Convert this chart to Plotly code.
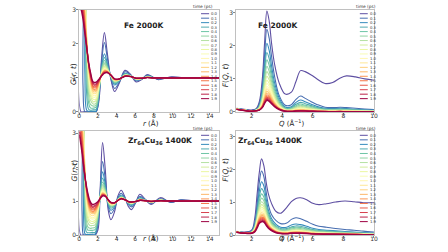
import plotly.graph_objects as go

# ---------------- data ----------------
times = [0.0, 0.1, 0.2, 0.3, 0.4, 0.5, 0.6, 0.7, 0.8, 0.9,
         1.0, 1.1, 1.2, 1.3, 1.4, 1.5, 1.6, 1.7, 1.8, 1.9]

# Fe 2000K, G(r,t)
r_fe = [0, 0.2, 0.4, 0.6, 0.8, 1.0, 1.2, 1.5, 1.8,
        2.1, 2.4, 2.7, 3.0, 3.4, 3.8, 4.3, 4.9, 5.5, 6.1, 6.7, 7.3, 7.9, 8.5, 9.2, 9.9, 11.5, 15]
G_fe = [
    [5, 0, 0, 0, 0, 0, 0, 0, 0, 0.3, 1.6, 2.33, 1.75, 0.95, 0.6, 0.85, 1.22, 1.1, 0.88, 0.95, 1.1, 1.02, 0.95, 0.99, 1.03, 1.0, 1.0],
    [5, 5, 0.8, 0, 0, 0, 0, 0, 0, 0.38, 1.47, 2.04, 1.61, 0.98, 0.69, 0.88, 1.18, 1.09, 0.91, 0.96, 1.08, 1.02, 0.96, 0.99, 1.02, 1.0, 1.0],
    [5, 5, 5, 1.19, 0.05, 0.02, 0.02, 0.02, 0.02, 0.48, 1.32, 1.71, 1.44, 1.02, 0.79, 0.91, 1.13, 1.07, 0.94, 0.97, 1.05, 1.01, 0.98, 1.0, 1.01, 1.0, 1.0],
    [5, 5, 5, 3.53, 0.51, 0.08, 0.05, 0.06, 0.07, 0.53, 1.27, 1.6, 1.39, 1.03, 0.83, 0.92, 1.12, 1.06, 0.95, 0.97, 1.05, 1.01, 0.98, 1.0, 1.01, 1.0, 1.0],
    [5, 5, 5, 4.46, 1.17, 0.27, 0.12, 0.11, 0.14, 0.58, 1.23, 1.51, 1.34, 1.04, 0.86, 0.93, 1.1, 1.06, 0.96, 0.98, 1.04, 1.01, 0.98, 1.0, 1.01, 1.0, 1.0],
    [5, 5, 5, 4.59, 1.66, 0.52, 0.22, 0.17, 0.2, 0.63, 1.2, 1.44, 1.31, 1.05, 0.88, 0.94, 1.09, 1.06, 0.96, 0.98, 1.03, 1.0, 0.99, 1.0, 1.01, 1.0, 1.0],
    [5, 5, 5, 4.42, 1.94, 0.75, 0.35, 0.23, 0.26, 0.66, 1.17, 1.39, 1.28, 1.05, 0.89, 0.94, 1.09, 1.05, 0.97, 0.98, 1.03, 1.0, 0.99, 1.0, 1.01, 1.0, 1.0],
    [5, 5, 5, 4.1, 2.08, 0.94, 0.48, 0.3, 0.33, 0.7, 1.15, 1.34, 1.26, 1.06, 0.91, 0.95, 1.08, 1.05, 0.97, 0.98, 1.03, 1.0, 0.99, 1.0, 1.0, 1.0, 1.0],
    [5, 5, 5, 3.87, 2.14, 1.08, 0.59, 0.37, 0.38, 0.74, 1.14, 1.31, 1.24, 1.06, 0.92, 0.95, 1.07, 1.05, 0.97, 0.98, 1.02, 1.0, 0.99, 1.0, 1.0, 1.0, 1.0],
    [5, 5, 5, 3.59, 2.15, 1.19, 0.69, 0.43, 0.45, 0.77, 1.12, 1.27, 1.22, 1.07, 0.93, 0.96, 1.07, 1.05, 0.98, 0.99, 1.02, 1.0, 0.99, 1.0, 1.0, 1.0, 1.0],
    [5, 5, 4.75, 3.36, 2.12, 1.25, 0.77, 0.49, 0.49, 0.79, 1.11, 1.26, 1.22, 1.07, 0.93, 0.96, 1.07, 1.05, 0.98, 0.99, 1.02, 1.0, 1.0, 1.0, 1.0, 1.0, 1.0],
    [5, 5, 4.28, 3.14, 2.1, 1.31, 0.85, 0.55, 0.55, 0.81, 1.1, 1.24, 1.21, 1.07, 0.94, 0.96, 1.06, 1.05, 0.98, 0.99, 1.02, 1.0, 1.0, 1.0, 1.0, 1.0, 1.0],
    [4.97, 4.71, 3.97, 2.99, 2.07, 1.35, 0.91, 0.6, 0.6, 0.83, 1.1, 1.22, 1.2, 1.07, 0.94, 0.96, 1.06, 1.04, 0.98, 0.99, 1.02, 1.0, 1.0, 1.0, 1.0, 1.0, 1.0],
    [4.54, 4.31, 3.69, 2.85, 2.03, 1.37, 0.95, 0.65, 0.63, 0.85, 1.09, 1.21, 1.19, 1.07, 0.95, 0.96, 1.06, 1.04, 0.98, 0.99, 1.02, 1.0, 1.0, 1.0, 1.0, 1.0, 1.0],
    [4.17, 3.98, 3.45, 2.73, 2.0, 1.39, 0.99, 0.68, 0.67, 0.87, 1.09, 1.2, 1.19, 1.08, 0.95, 0.96, 1.06, 1.04, 0.99, 0.99, 1.01, 1.0, 1.0, 1.0, 1.0, 1.0, 1.0],
    [3.84, 3.68, 3.24, 2.6, 1.95, 1.4, 1.04, 0.73, 0.71, 0.88, 1.08, 1.19, 1.18, 1.08, 0.96, 0.97, 1.05, 1.04, 0.99, 0.99, 1.01, 1.0, 1.0, 1.0, 1.0, 1.0, 1.0],
    [3.63, 3.49, 3.1, 2.52, 1.93, 1.42, 1.07, 0.76, 0.75, 0.9, 1.08, 1.17, 1.17, 1.08, 0.96, 0.97, 1.05, 1.04, 0.99, 0.99, 1.01, 1.0, 1.0, 1.0, 1.0, 1.0, 1.0],
    [3.43, 3.32, 2.97, 2.45, 1.91, 1.43, 1.1, 0.8, 0.79, 0.91, 1.07, 1.16, 1.17, 1.08, 0.96, 0.97, 1.05, 1.04, 0.99, 0.99, 1.01, 1.0, 1.0, 1.0, 1.0, 1.0, 1.0],
    [3.27, 3.16, 2.85, 2.38, 1.9, 1.44, 1.13, 0.84, 0.82, 0.93, 1.07, 1.15, 1.16, 1.08, 0.97, 0.97, 1.05, 1.04, 0.99, 0.99, 1.01, 1.0, 1.0, 1.0, 1.0, 1.0, 1.0],
    [3.1, 3.01, 2.74, 2.32, 1.88, 1.46, 1.16, 0.88, 0.87, 0.95, 1.06, 1.14, 1.16, 1.08, 0.97, 0.97, 1.05, 1.04, 0.99, 0.99, 1.01, 1.0, 1.0, 1.0, 1.0, 1.0, 1.0],
]

# Fe 2000K, F(Q,t)
q_fe = [1.0, 1.5, 2.0, 2.3, 2.5, 2.7, 2.85, 3.0, 3.15, 3.3, 3.5, 3.8, 4.2, 4.6, 4.9, 5.2, 5.5, 5.9, 6.3, 6.8, 7.3, 7.8, 8.2, 8.8, 9.4, 10.0]
F_fe = [
    [0.11, 0.08, 0.06, 0.1, 0.3, 1.0, 2.1, 3.05, 2.75, 2.1, 1.45, 0.88, 0.54, 0.6, 0.92, 1.25, 1.22, 1.12, 0.99, 0.86, 0.89, 1.03, 1.09, 1.06, 1.0, 0.96],
    [0.105, 0.07, 0.04, 0.08, 0.23, 0.78, 1.73, 2.5, 2.23, 1.7, 1.08, 0.5, 0.2, 0.22, 0.38, 0.48, 0.41, 0.31, 0.22, 0.14, 0.13, 0.14, 0.13, 0.11, 0.09, 0.07],
    [0.1, 0.065, 0.037, 0.07, 0.19, 0.65, 1.44, 2.08, 1.86, 1.41, 0.89, 0.42, 0.15, 0.16, 0.29, 0.36, 0.31, 0.23, 0.16, 0.11, 0.1, 0.11, 0.1, 0.08, 0.065, 0.055],
    [0.1, 0.063, 0.035, 0.066, 0.17, 0.57, 1.25, 1.8, 1.61, 1.22, 0.76, 0.35, 0.12, 0.13, 0.23, 0.29, 0.25, 0.19, 0.13, 0.09, 0.08, 0.09, 0.08, 0.064, 0.052, 0.044],
    [0.098, 0.062, 0.034, 0.06, 0.15, 0.5, 1.1, 1.58, 1.41, 1.07, 0.66, 0.3, 0.1, 0.11, 0.19, 0.24, 0.2, 0.16, 0.11, 0.07, 0.067, 0.072, 0.067, 0.053, 0.043, 0.036],
    [0.096, 0.06, 0.033, 0.058, 0.14, 0.44, 0.96, 1.38, 1.23, 0.93, 0.58, 0.26, 0.085, 0.09, 0.16, 0.2, 0.17, 0.13, 0.09, 0.06, 0.056, 0.06, 0.056, 0.044, 0.036, 0.03],
    [0.094, 0.058, 0.032, 0.054, 0.13, 0.4, 0.85, 1.22, 1.09, 0.83, 0.51, 0.23, 0.075, 0.077, 0.136, 0.17, 0.145, 0.11, 0.077, 0.05, 0.048, 0.05, 0.048, 0.037, 0.03, 0.026],
    [0.092, 0.056, 0.031, 0.05, 0.11, 0.35, 0.76, 1.08, 0.97, 0.74, 0.45, 0.2, 0.065, 0.063, 0.11, 0.14, 0.12, 0.09, 0.063, 0.042, 0.04, 0.042, 0.04, 0.031, 0.025, 0.021],
    [0.09, 0.055, 0.03, 0.048, 0.1, 0.31, 0.68, 0.96, 0.86, 0.66, 0.4, 0.18, 0.055, 0.054, 0.096, 0.12, 0.1, 0.078, 0.054, 0.036, 0.034, 0.036, 0.034, 0.026, 0.022, 0.018],
    [0.088, 0.054, 0.029, 0.046, 0.09, 0.28, 0.6, 0.86, 0.78, 0.59, 0.36, 0.16, 0.05, 0.045, 0.08, 0.1, 0.085, 0.065, 0.045, 0.03, 0.028, 0.03, 0.028, 0.022, 0.018, 0.015],
    [0.087, 0.053, 0.028, 0.045, 0.085, 0.25, 0.54, 0.77, 0.7, 0.53, 0.33, 0.15, 0.045, 0.04, 0.072, 0.09, 0.077, 0.059, 0.04, 0.027, 0.025, 0.027, 0.025, 0.02, 0.016, 0.014],
    [0.086, 0.052, 0.027, 0.044, 0.08, 0.23, 0.5, 0.7, 0.63, 0.48, 0.3, 0.13, 0.04, 0.036, 0.064, 0.08, 0.068, 0.052, 0.036, 0.024, 0.022, 0.024, 0.022, 0.018, 0.014, 0.012],
    [0.085, 0.051, 0.026, 0.042, 0.075, 0.21, 0.45, 0.63, 0.57, 0.44, 0.27, 0.12, 0.037, 0.032, 0.056, 0.07, 0.06, 0.046, 0.032, 0.021, 0.02, 0.021, 0.02, 0.015, 0.013, 0.011],
    [0.084, 0.05, 0.025, 0.04, 0.07, 0.19, 0.41, 0.57, 0.52, 0.4, 0.25, 0.11, 0.034, 0.027, 0.048, 0.06, 0.051, 0.039, 0.027, 0.018, 0.017, 0.018, 0.017, 0.013, 0.011, 0.009],
    [0.083, 0.049, 0.024, 0.04, 0.066, 0.18, 0.38, 0.52, 0.48, 0.36, 0.23, 0.1, 0.03, 0.023, 0.04, 0.05, 0.043, 0.033, 0.023, 0.015, 0.014, 0.015, 0.014, 0.011, 0.009, 0.008],
    [0.082, 0.048, 0.023, 0.038, 0.063, 0.17, 0.35, 0.48, 0.44, 0.34, 0.21, 0.095, 0.028, 0.02, 0.036, 0.045, 0.038, 0.029, 0.02, 0.014, 0.013, 0.014, 0.013, 0.01, 0.008, 0.007],
    [0.081, 0.047, 0.022, 0.037, 0.06, 0.16, 0.32, 0.44, 0.41, 0.31, 0.2, 0.09, 0.026, 0.018, 0.032, 0.04, 0.034, 0.026, 0.018, 0.012, 0.011, 0.012, 0.011, 0.009, 0.007, 0.006],
    [0.08, 0.046, 0.021, 0.036, 0.058, 0.15, 0.3, 0.41, 0.38, 0.29, 0.19, 0.085, 0.024, 0.016, 0.028, 0.035, 0.03, 0.023, 0.016, 0.011, 0.01, 0.011, 0.01, 0.008, 0.006, 0.005],
    [0.079, 0.045, 0.02, 0.035, 0.056, 0.14, 0.28, 0.38, 0.35, 0.27, 0.18, 0.08, 0.022, 0.014, 0.024, 0.03, 0.026, 0.02, 0.014, 0.009, 0.008, 0.009, 0.008, 0.007, 0.005, 0.005],
    [0.078, 0.044, 0.02, 0.034, 0.054, 0.13, 0.26, 0.35, 0.32, 0.25, 0.16, 0.075, 0.02, 0.013, 0.024, 0.03, 0.026, 0.02, 0.014, 0.009, 0.008, 0.009, 0.008, 0.006, 0.005, 0.004],
]

# Zr64Cu36 1400K, G(r,t)
r_zc = [0, 0.15, 0.3, 0.45, 0.6, 0.75, 0.9, 1.15, 1.4, 1.7,
        2.0, 2.25, 2.5, 2.8, 3.1, 3.4, 3.8, 4.15, 4.5, 4.9, 5.25, 5.6, 6.05, 6.5, 7.1, 7.7, 8.7, 9.8, 10.9, 12.5, 15]
G_zc = [
    [5, 0, 0, 0, 0, 0, 0, 0, 0, 0, 0.15, 1.4, 2.72, 1.9, 0.75, 0.45, 0.7, 1.15, 1.32, 1.12, 0.85, 0.75, 0.95, 1.2, 1.05, 0.9, 1.1, 0.96, 1.04, 1.0, 1.0],
    [5, 5, 0.69, 0, 0, 0, 0, 0, 0, 0, 0.3, 1.29, 2.16, 1.63, 0.85, 0.63, 0.79, 1.1, 1.23, 1.09, 0.9, 0.83, 0.96, 1.14, 1.04, 0.93, 1.07, 0.97, 1.03, 1.0, 1.0],
    [5, 5, 5, 1.03, 0.05, 0.02, 0.02, 0.02, 0.03, 0.03, 0.39, 1.22, 1.86, 1.48, 0.91, 0.73, 0.84, 1.08, 1.18, 1.08, 0.93, 0.87, 0.97, 1.1, 1.03, 0.95, 1.05, 0.98, 1.02, 1.0, 1.0],
    [5, 5, 5, 3.06, 0.46, 0.1, 0.07, 0.07, 0.08, 0.08, 0.46, 1.19, 1.68, 1.4, 0.94, 0.79, 0.87, 1.06, 1.15, 1.07, 0.94, 0.9, 0.98, 1.08, 1.02, 0.96, 1.04, 0.99, 1.01, 1.0, 1.0],
    [5, 5, 5, 3.87, 1.03, 0.27, 0.15, 0.14, 0.14, 0.16, 0.53, 1.16, 1.56, 1.34, 0.96, 0.83, 0.89, 1.05, 1.13, 1.06, 0.95, 0.91, 0.98, 1.07, 1.02, 0.97, 1.03, 0.99, 1.01, 1.0, 1.0],
    [5, 5, 5, 3.99, 1.47, 0.5, 0.25, 0.2, 0.21, 0.23, 0.58, 1.15, 1.48, 1.3, 0.98, 0.85, 0.9, 1.05, 1.12, 1.06, 0.96, 0.92, 0.98, 1.06, 1.02, 0.97, 1.03, 0.99, 1.01, 1.0, 1.0],
    [5, 5, 5, 3.84, 1.72, 0.72, 0.38, 0.28, 0.28, 0.3, 0.63, 1.13, 1.42, 1.27, 0.99, 0.87, 0.91, 1.04, 1.11, 1.05, 0.97, 0.93, 0.98, 1.05, 1.02, 0.97, 1.03, 0.99, 1.01, 1.0, 1.0],
    [5, 5, 5, 3.57, 1.85, 0.9, 0.51, 0.36, 0.34, 0.38, 0.68, 1.12, 1.37, 1.25, 1.0, 0.89, 0.91, 1.04, 1.1, 1.05, 0.97, 0.94, 0.98, 1.05, 1.02, 0.98, 1.02, 1.0, 1.0, 1.0, 1.0],
    [5, 5, 5, 3.37, 1.9, 1.04, 0.62, 0.43, 0.4, 0.44, 0.71, 1.12, 1.33, 1.23, 1.01, 0.9, 0.92, 1.03, 1.1, 1.05, 0.97, 0.94, 0.99, 1.04, 1.01, 0.98, 1.02, 1.0, 1.0, 1.0, 1.0],
    [5, 5, 4.64, 3.14, 1.93, 1.14, 0.73, 0.51, 0.47, 0.51, 0.76, 1.11, 1.3, 1.21, 1.01, 0.91, 0.93, 1.03, 1.09, 1.05, 0.98, 0.95, 0.99, 1.04, 1.01, 0.98, 1.02, 1.0, 1.0, 1.0, 1.0],
    [5, 5, 4.15, 2.93, 1.9, 1.21, 0.82, 0.57, 0.51, 0.55, 0.78, 1.11, 1.28, 1.2, 1.02, 0.92, 0.93, 1.03, 1.09, 1.05, 0.98, 0.95, 0.99, 1.03, 1.01, 0.98, 1.02, 1.0, 1.0, 1.0, 1.0],
    [4.83, 4.54, 3.73, 2.74, 1.89, 1.28, 0.89, 0.63, 0.57, 0.61, 0.81, 1.1, 1.26, 1.19, 1.02, 0.92, 0.93, 1.03, 1.09, 1.05, 0.98, 0.95, 0.99, 1.03, 1.01, 0.98, 1.02, 1.0, 1.0, 1.0, 1.0],
    [4.39, 4.15, 3.47, 2.62, 1.88, 1.32, 0.96, 0.69, 0.63, 0.65, 0.83, 1.1, 1.24, 1.19, 1.02, 0.93, 0.94, 1.03, 1.08, 1.04, 0.98, 0.96, 0.99, 1.03, 1.01, 0.98, 1.02, 1.0, 1.0, 1.0, 1.0],
    [4.02, 3.81, 3.23, 2.51, 1.85, 1.35, 1.0, 0.74, 0.66, 0.69, 0.86, 1.1, 1.23, 1.18, 1.03, 0.93, 0.94, 1.03, 1.08, 1.04, 0.98, 0.96, 0.99, 1.03, 1.01, 0.99, 1.01, 1.0, 1.0, 1.0, 1.0],
    [3.71, 3.52, 3.03, 2.39, 1.82, 1.37, 1.05, 0.78, 0.69, 0.73, 0.88, 1.09, 1.21, 1.17, 1.03, 0.94, 0.94, 1.02, 1.08, 1.04, 0.98, 0.96, 0.99, 1.03, 1.01, 0.99, 1.01, 1.0, 1.0, 1.0, 1.0],
    [3.43, 3.27, 2.85, 2.28, 1.79, 1.39, 1.1, 0.83, 0.74, 0.76, 0.9, 1.09, 1.2, 1.17, 1.03, 0.94, 0.94, 1.02, 1.08, 1.04, 0.99, 0.96, 0.99, 1.03, 1.01, 0.99, 1.01, 1.0, 1.0, 1.0, 1.0],
    [3.28, 3.1, 2.73, 2.22, 1.78, 1.41, 1.14, 0.86, 0.77, 0.8, 0.91, 1.09, 1.19, 1.16, 1.03, 0.95, 0.95, 1.02, 1.07, 1.04, 0.99, 0.97, 0.99, 1.02, 1.01, 0.99, 1.01, 1.0, 1.0, 1.0, 1.0],
    [3.15, 2.96, 2.62, 2.16, 1.76, 1.43, 1.17, 0.91, 0.81, 0.84, 0.93, 1.09, 1.18, 1.16, 1.04, 0.95, 0.95, 1.02, 1.07, 1.04, 0.99, 0.97, 0.99, 1.02, 1.01, 0.99, 1.01, 1.0, 1.0, 1.0, 1.0],
    [3.05, 2.83, 2.51, 2.1, 1.75, 1.45, 1.21, 0.95, 0.85, 0.87, 0.96, 1.08, 1.17, 1.15, 1.04, 0.96, 0.95, 1.02, 1.07, 1.04, 0.99, 0.97, 0.99, 1.02, 1.01, 0.99, 1.01, 1.0, 1.0, 1.0, 1.0],
    [2.95, 2.72, 2.42, 2.05, 1.74, 1.47, 1.25, 1.0, 0.9, 0.92, 0.98, 1.08, 1.15, 1.14, 1.04, 0.96, 0.95, 1.02, 1.07, 1.04, 0.99, 0.97, 0.99, 1.02, 1.01, 0.99, 1.01, 1.0, 1.0, 1.0, 1.0],
]

# Zr64Cu36 1400K, F(Q,t)
q_zc = [1.0, 1.5, 2.0, 2.2, 2.35, 2.5, 2.65, 2.8, 2.95, 3.1, 3.3, 3.6, 3.9, 4.3, 4.6, 4.9, 5.2, 5.6, 6.0, 6.4, 6.9, 7.5, 8.1, 8.7, 9.3, 10.0]
F_zc = [
    [0.12, 0.09, 0.15, 0.5, 1.2, 1.9, 2.33, 2.12, 1.62, 1.25, 0.97, 0.72, 0.67, 0.85, 1.02, 1.12, 1.14, 1.08, 0.97, 0.93, 0.96, 1.01, 1.04, 1.02, 0.99, 0.99],
    [0.11, 0.08, 0.13, 0.36, 0.91, 1.6, 1.96, 1.79, 1.32, 0.92, 0.63, 0.44, 0.35, 0.37, 0.48, 0.53, 0.5, 0.42, 0.33, 0.27, 0.24, 0.2, 0.17, 0.15, 0.12, 0.09],
    [0.108, 0.078, 0.115, 0.31, 0.76, 1.33, 1.63, 1.5, 1.11, 0.76, 0.51, 0.33, 0.24, 0.24, 0.31, 0.34, 0.32, 0.27, 0.21, 0.17, 0.15, 0.13, 0.11, 0.095, 0.075, 0.058],
    [0.106, 0.076, 0.105, 0.27, 0.67, 1.17, 1.42, 1.31, 0.97, 0.67, 0.44, 0.28, 0.2, 0.2, 0.25, 0.28, 0.27, 0.22, 0.17, 0.14, 0.13, 0.11, 0.09, 0.08, 0.06, 0.048],
    [0.105, 0.075, 0.097, 0.24, 0.6, 1.04, 1.26, 1.16, 0.86, 0.6, 0.39, 0.25, 0.17, 0.17, 0.22, 0.24, 0.23, 0.19, 0.15, 0.12, 0.11, 0.09, 0.08, 0.067, 0.053, 0.041],
    [0.104, 0.074, 0.09, 0.22, 0.54, 0.93, 1.13, 1.05, 0.78, 0.54, 0.35, 0.22, 0.15, 0.15, 0.19, 0.21, 0.2, 0.17, 0.13, 0.105, 0.095, 0.08, 0.07, 0.059, 0.046, 0.036],
    [0.103, 0.073, 0.086, 0.2, 0.49, 0.85, 1.02, 0.95, 0.7, 0.49, 0.32, 0.2, 0.13, 0.13, 0.16, 0.18, 0.17, 0.14, 0.11, 0.09, 0.08, 0.068, 0.06, 0.05, 0.04, 0.031],
    [0.102, 0.072, 0.082, 0.19, 0.45, 0.77, 0.93, 0.87, 0.64, 0.45, 0.29, 0.18, 0.12, 0.11, 0.14, 0.16, 0.15, 0.13, 0.1, 0.08, 0.072, 0.061, 0.053, 0.045, 0.035, 0.027],
    [0.101, 0.071, 0.079, 0.18, 0.42, 0.72, 0.86, 0.8, 0.6, 0.42, 0.27, 0.16, 0.1, 0.1, 0.13, 0.14, 0.13, 0.11, 0.087, 0.07, 0.063, 0.053, 0.046, 0.039, 0.031, 0.024],
    [0.1, 0.07, 0.077, 0.17, 0.39, 0.67, 0.8, 0.75, 0.56, 0.39, 0.25, 0.15, 0.1, 0.09, 0.12, 0.13, 0.12, 0.1, 0.08, 0.065, 0.058, 0.049, 0.043, 0.036, 0.029, 0.022],
    [0.099, 0.069, 0.074, 0.16, 0.36, 0.62, 0.74, 0.7, 0.52, 0.36, 0.24, 0.14, 0.09, 0.084, 0.11, 0.12, 0.114, 0.096, 0.074, 0.06, 0.054, 0.046, 0.04, 0.034, 0.026, 0.02],
    [0.098, 0.068, 0.072, 0.15, 0.34, 0.58, 0.69, 0.65, 0.49, 0.34, 0.22, 0.13, 0.083, 0.077, 0.1, 0.11, 0.105, 0.088, 0.068, 0.055, 0.05, 0.042, 0.036, 0.031, 0.024, 0.019],
    [0.097, 0.067, 0.07, 0.14, 0.32, 0.54, 0.64, 0.61, 0.45, 0.32, 0.21, 0.12, 0.076, 0.07, 0.09, 0.1, 0.095, 0.08, 0.062, 0.05, 0.045, 0.038, 0.033, 0.028, 0.022, 0.017],
    [0.096, 0.066, 0.068, 0.13, 0.3, 0.51, 0.6, 0.57, 0.43, 0.3, 0.2, 0.11, 0.07, 0.063, 0.081, 0.09, 0.086, 0.072, 0.056, 0.045, 0.04, 0.034, 0.03, 0.025, 0.02, 0.015],
    [0.095, 0.065, 0.066, 0.13, 0.28, 0.48, 0.56, 0.53, 0.4, 0.28, 0.19, 0.1, 0.065, 0.06, 0.077, 0.085, 0.08, 0.068, 0.053, 0.043, 0.038, 0.032, 0.028, 0.024, 0.019, 0.014],
    [0.094, 0.064, 0.064, 0.12, 0.27, 0.45, 0.53, 0.51, 0.38, 0.27, 0.18, 0.097, 0.061, 0.056, 0.072, 0.08, 0.076, 0.064, 0.05, 0.04, 0.036, 0.03, 0.026, 0.022, 0.018, 0.014],
    [0.093, 0.063, 0.062, 0.115, 0.255, 0.43, 0.5, 0.48, 0.36, 0.255, 0.17, 0.091, 0.058, 0.053, 0.068, 0.075, 0.071, 0.06, 0.047, 0.038, 0.034, 0.029, 0.025, 0.021, 0.017, 0.013],
    [0.092, 0.062, 0.06, 0.11, 0.24, 0.41, 0.47, 0.45, 0.34, 0.24, 0.16, 0.086, 0.054, 0.049, 0.063, 0.07, 0.067, 0.056, 0.043, 0.035, 0.032, 0.027, 0.023, 0.02, 0.015, 0.012],
    [0.091, 0.061, 0.058, 0.105, 0.23, 0.38, 0.44, 0.43, 0.32, 0.23, 0.15, 0.08, 0.05, 0.046, 0.059, 0.065, 0.062, 0.052, 0.04, 0.033, 0.029, 0.025, 0.021, 0.018, 0.014, 0.011],
    [0.09, 0.06, 0.056, 0.1, 0.21, 0.36, 0.41, 0.4, 0.3, 0.21, 0.14, 0.074, 0.046, 0.042, 0.054, 0.06, 0.057, 0.048, 0.037, 0.03, 0.027, 0.023, 0.02, 0.017, 0.013, 0.01],
]

# ---------------- style ----------------
W, H = 448, 252
FONT = "DejaVu Sans"
SPECTRAL = [(158, 1, 66), (213, 62, 79), (244, 109, 67), (253, 174, 97), (254, 224, 139),
            (255, 255, 191), (230, 245, 152), (171, 221, 164), (102, 194, 165), (50, 136, 189), (94, 79, 162)]


def spectral_r(x):
    p = (1 - x) * 10
    k = min(int(p), 9)
    f = p - k
    a, b = SPECTRAL[k], SPECTRAL[k + 1]
    return "rgb(%d,%d,%d)" % tuple(round(a[j] + (b[j] - a[j]) * f) for j in range(3))


n = len(times)
colors = [spectral_r(i / (n - 1)) for i in range(n)]


def px_x(v):
    return v / W


def px_y(v):
    return 1 - v / H


XL = [px_x(78.3), px_x(220.0)]
XR = [px_x(237.5), px_x(377.0)]
YT = [px_y(111.0), px_y(6.0)]
YB = [px_y(237.7), px_y(131.0)]

fig = go.Figure()

panels = [
    ("x", "y", r_fe, G_fe),
    ("x2", "y2", q_fe, F_fe),
    ("x3", "y3", r_zc, G_zc),
    ("x4", "y4", q_zc, F_zc),
]
for xa, ya, grid, rows in panels:
    for i, row in enumerate(rows):
        fig.add_trace(go.Scatter(
            x=grid, y=row, mode="lines", xaxis=xa, yaxis=ya, showlegend=False,
            line=dict(color=colors[i], width=1.5 if i == n - 1 else 1.1, shape="spline", smoothing=1.0),
            hoverinfo="skip"))

axis_common = dict(showline=True, linecolor="#c0c0c0", linewidth=1, mirror=True,
                   ticks="outside", ticklen=2, tickwidth=0.8, tickcolor="#666",
                   showgrid=False, zeroline=False,
                   tickfont=dict(family=FONT, size=6, color="#333"))
xa_extra = dict(ticklabelstandoff=-4)
ya_extra = dict(ticklabelstandoff=-1)

fig.update_layout(
    width=W, height=H, margin=dict(l=0, r=0, t=0, b=0),
    paper_bgcolor="white", plot_bgcolor="white", hovermode=False,
    xaxis=dict(domain=XL, range=[0, 15], tickvals=[0, 2, 4, 6, 8, 10, 12, 14], anchor="y", **axis_common, **xa_extra),
    yaxis=dict(domain=YT, range=[0, 3], tickvals=[0, 1, 2, 3], anchor="x", **axis_common, **ya_extra),
    xaxis2=dict(domain=XR, range=[1, 10], tickvals=[2, 4, 6, 8, 10], anchor="y2", **axis_common, **xa_extra),
    yaxis2=dict(domain=YT, range=[0, 3.09], tickvals=[0, 1, 2, 3], anchor="x2", **axis_common, **ya_extra),
    xaxis3=dict(domain=XL, range=[0, 15], tickvals=[0, 2, 4, 6, 8, 10, 12, 14], anchor="y3", **axis_common, **xa_extra),
    yaxis3=dict(domain=YB, range=[0, 3.05], tickvals=[0, 1, 2, 3], anchor="x3", **axis_common, **ya_extra),
    xaxis4=dict(domain=XR, range=[1, 10], tickvals=[2, 4, 6, 8, 10], anchor="y4", **axis_common, **xa_extra),
    yaxis4=dict(domain=YB, range=[0, 3.17], tickvals=[0, 1, 2, 3], anchor="x4", **axis_common, **ya_extra),
)

ann = []
shapes = []


def text(x, y, s, size, **kw):
    d = dict(x=x, y=y, xref="paper", yref="paper", text=s, showarrow=False,
             font=dict(family=FONT, size=size, color=kw.pop("color", "#222")))
    d.update(kw)
    ann.append(d)


# axis titles
text(px_x(66.5), px_y(58.5), "<i>G</i>(<i>r, t</i>)", 7.5, textangle=-90)
text(px_x(66.5), px_y(184.5), "<i>G</i>(<i>r, t</i>)", 7.5, textangle=-90)
text(px_x(226.5), px_y(58.5), "<i>F</i>(<i>Q, t</i>)", 7.5, textangle=-90)
text(px_x(226.5), px_y(184.5), "<i>F</i>(<i>Q, t</i>)", 7.5, textangle=-90)
text(px_x(151), px_y(122.5), "<i>r</i> (Å)", 7)
text(px_x(151), px_y(248.3), "<i>r</i> (Å)", 7)
text(px_x(308), px_y(122), "<i>Q</i> (Å<sup>−1</sup>)", 7)
text(px_x(308), px_y(247.8), "<i>Q</i> (Å<sup>−1</sup>)", 7)

# panel titles
text(px_x(121.5), px_y(15), "<b>Fe 2000K</b>", 7.5)
text(px_x(302.5), px_y(15), "<b>Fe 2000K</b>", 7.5)
text(px_x(126), px_y(140.5), "<b>Zr<sub>64</sub>Cu<sub>36</sub> 1400K</b>", 7.5)
text(px_x(307.5), px_y(141), "<b>Zr<sub>64</sub>Cu<sub>36</sub> 1400K</b>", 7.5)

# legends (drawn inside each panel, matplotlib-like)
leg_specs = [
    ("x", "y", 0.871, 0.929, 0.938, 0.885),
    ("x2", "y2", 0.8975, 0.955, 0.962, 0.945),
    ("x3", "y3", 0.871, 0.929, 0.938, 0.885),
    ("x4", "y4", 0.8975, 0.955, 0.962, 0.945),
]
y_first, y_last = 0.962, 0.13
step = (y_first - y_last) / (n - 1)
for xa, ya, kx0, kx1, lx, tx in leg_specs:
    xr = xa + " domain"
    yr = ya + " domain"
    ann.append(dict(x=tx, y=1.03, xref=xr, yref=yr, text="time (ps)", showarrow=False,
                    font=dict(family=FONT, size=4.3, color="#333"), xanchor="center", yanchor="middle"))
    for i, t in enumerate(times):
        yy = y_first - i * step
        shapes.append(dict(type="line", xref=xr, yref=yr, x0=kx0, x1=kx1, y0=yy, y1=yy,
                           line=dict(color=colors[i], width=1)))
        ann.append(dict(x=lx, y=yy, xref=xr, yref=yr, text="%.1f" % t, showarrow=False,
                        font=dict(family=FONT, size=3.8, color="#333"), xanchor="left", yanchor="middle",
                        borderpad=0))

fig.update_layout(annotations=ann, shapes=shapes)
fig.write_html("out.html", config={"displayModeBar": False, "staticPlot": True},
               post_script="document.body.style.margin='0px';")
